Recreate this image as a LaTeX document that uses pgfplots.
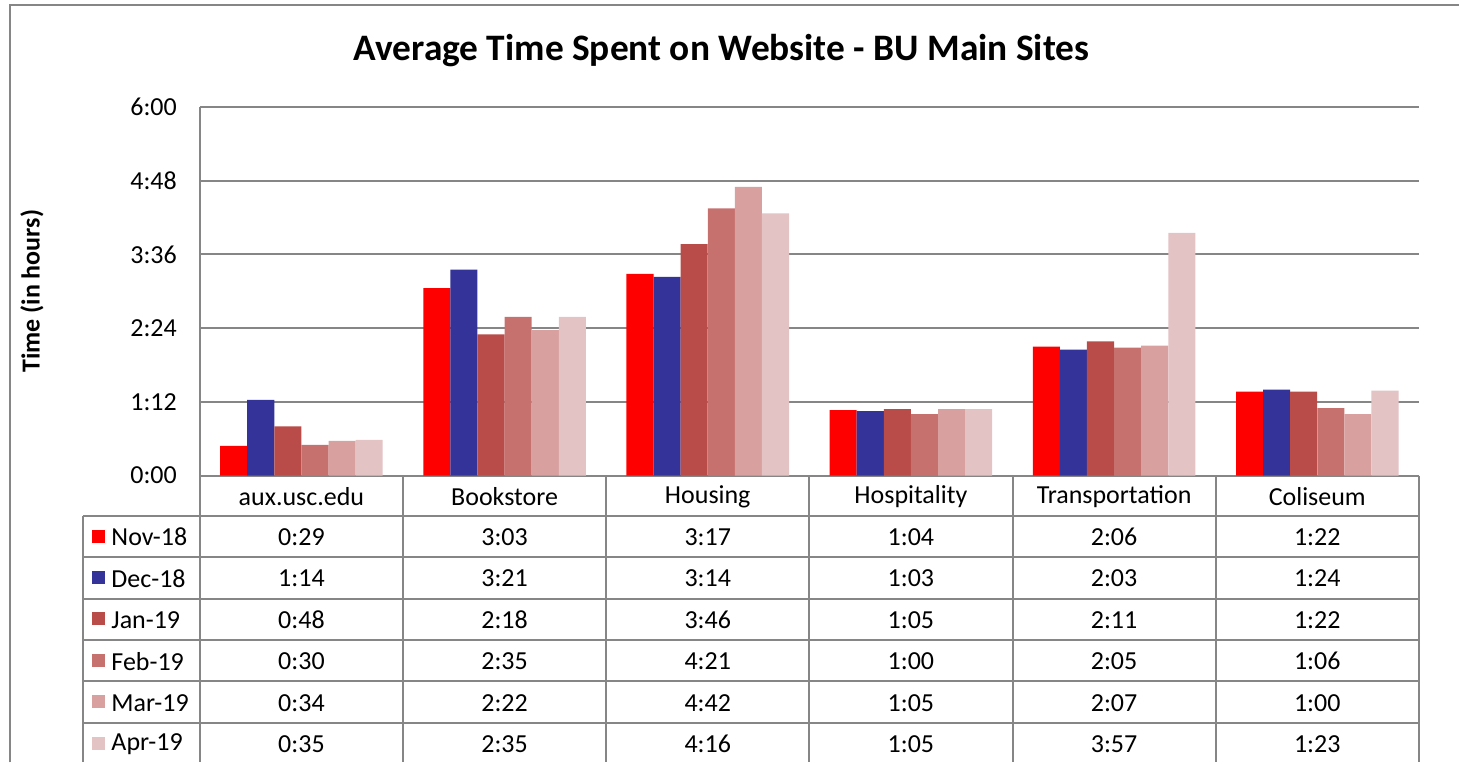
\documentclass[border=0pt]{standalone}
\usepackage{fontspec}
\setmainfont{Carlito}
\usepackage{pgfplots}
\pgfplotsset{compat=1.18}
\definecolor{cNov}{RGB}{255,0,0}
\definecolor{cDec}{RGB}{51,51,153}
\definecolor{cJan}{RGB}{185,76,72}
\definecolor{cFeb}{RGB}{199,113,111}
\definecolor{cMar}{RGB}{216,161,160}
\definecolor{cApr}{RGB}{228,195,196}
\definecolor{gridgray}{RGB}{134,134,134}
\newcommand{\fs}{\fontsize{13}{15}\selectfont}
\begin{document}
\begin{tikzpicture}
% pixel frame: 1px = 0.5pt, origin of axis at pixel (200,476)
\begin{scope}[x=0.5pt,y=-0.5pt,shift={(-100pt,238pt)}]
\path[use as bounding box] (0,0) rectangle (1460,763);
\end{scope}
\begin{axis}[
 at={(0,0)}, anchor=south west,
 scale only axis, width=610pt, height=184.5pt,
 xmin=-0.5, xmax=5.5, ymin=0, ymax=360,
 ybar, bar width=0.1333,
 xtick=\empty,
 ytick={0,72,144,216,288,360},
 yticklabels={0:00,1:12,2:24,3:36,4:48,6:00},
 ymajorgrids, grid style={gridgray, line width=1pt},
 axis x line*=bottom, axis y line*=left,
 axis line style={gridgray, line width=1pt},
 major tick length=0pt,
 /pgf/number format/assume math mode=true,
 y tick label style={font=\fs, xshift=-8pt},
 ylabel={Time (in hours)},
 y label style={at={(axis description cs:-0.1377,0.5)}, anchor=center, font=\bfseries\fs},
 title={Average Time Spent on Website - BU Main Sites},
 title style={at={(axis description cs:0.4279,1.119)}, anchor=center, yshift=0pt, font=\bfseries\fontsize{18.7}{20}\selectfont},
 clip=false,
]
\addplot[fill=cNov, draw=none, bar shift=-0.3333] coordinates {(0,29) (1,183) (2,197) (3,64) (4,126) (5,82)};
\addplot[fill=cDec, draw=none, bar shift=-0.2] coordinates {(0,74) (1,201) (2,194) (3,63) (4,123) (5,84)};
\addplot[fill=cJan, draw=none, bar shift=-0.0667] coordinates {(0,48) (1,138) (2,226) (3,65) (4,131) (5,82)};
\addplot[fill=cFeb, draw=none, bar shift=0.0667] coordinates {(0,30) (1,155) (2,261) (3,60) (4,125) (5,66)};
\addplot[fill=cMar, draw=none, bar shift=0.2] coordinates {(0,34) (1,142) (2,282) (3,65) (4,127) (5,60)};
\addplot[fill=cApr, draw=none, bar shift=0.3333] coordinates {(0,35) (1,155) (2,256) (3,65) (4,237) (5,83)};
\end{axis}
\begin{scope}[x=0.5pt,y=-0.5pt,shift={(-100pt,238pt)}]
\draw[gridgray, line width=1.2pt] (10,763) -- (10,5) -- (1460,5);
\foreach \x in {200,403.33,606.67,810,1013.33,1216.67,1420}
  \draw[gridgray,line width=1pt] (\x,476) -- (\x,763);
\draw[gridgray,line width=1pt] (83,516) -- (83,763);
\foreach \y in {516,557.5,599,640.5,682,723.5}
  \draw[gridgray,line width=1pt] (83,\y) -- (1420,\y);
\foreach \n [count=\i from 0] in {aux.usc.edu,Bookstore,Housing,Hospitality,Transportation,Coliseum}
  \node[font=\fs] at (301.67+203.33*\i, 497) {\n};
\foreach \lab/\col/\vals [count=\r from 0] in {
  Nov-18/cNov/{0:29,3:03,3:17,1:04,2:06,1:22},
  Dec-18/cDec/{1:14,3:21,3:14,1:03,2:03,1:24},
  Jan-19/cJan/{0:48,2:18,3:46,1:05,2:11,1:22},
  Feb-19/cFeb/{0:30,2:35,4:21,1:00,2:05,1:06},
  Mar-19/cMar/{0:34,2:22,4:42,1:05,2:07,1:00},
  Apr-19/cApr/{0:35,2:35,4:16,1:05,3:57,1:23}}{
  \fill[\col] (92.5,530+41.5*\r) rectangle ++(13,13);
  \node[anchor=west, font=\fs] at (104.5,537.25+41.5*\r) {\lab};
  \foreach \v [count=\c from 0] in \vals
    \node[font=\fs] at (301.67+203.33*\c, 537.25+41.5*\r) {\v};
}
\end{scope}
\end{tikzpicture}
\end{document}
